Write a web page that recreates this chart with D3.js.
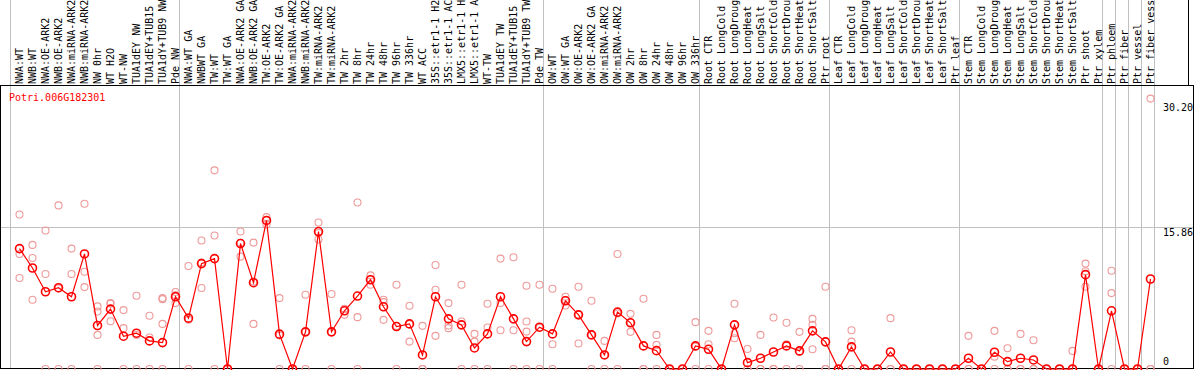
<!doctype html>
<html lang="en">
<head>
<meta charset="utf-8">
<title>Potri.006G182301</title>
<script src="https://cdn.jsdelivr.net/npm/d3@7"></script>
<style>
	html, body { margin: 0; padding: 0; background: #fff; }
	svg { display: block; }
	text { font-family: "DejaVu Sans Mono", monospace; font-size: 10px; }
</style>
</head>
<body>
<div id="chart"></div>
<script>
	// gene shown
	var geneName = "Potri.006G182301";

	// sample names, left to right
	var categories = [
		"NWA:WT", "NWB:WT", "NWA:OE-ARK2", "NWB:OE-ARK2", "NWA:miRNA-ARK2", "NWB:miRNA-ARK2",
		"NW 0hr", "WT H2O", "WT-NW", "TUA1dEY NW", "TUA1dEY+TUB15 NW", "TUA1dY+TUB9 NW", "Pde NW",
		"NWA:WT GA", "NWBWT GA", "TW:WT", "TW:WT GA", "NWA:OE-ARK2 GA", "NWB:OE-ARK2 GA",
		"TW:OE-ARK2", "TW:OE-ARK2 GA", "NWA:miRNA-ARK2", "NWB:miRNA-ARK2", "TW:miRNA-ARK2",
		"TW:miRNA-ARK2", "TW 2hr", "TW 8hr", "TW 24hr", "TW 48hr", "TW 96hr", "TW 336hr",
		"WT ACC", "35S::etr1-1 H2O", "35S::etr1-1 ACC", "LMX5::etr1-1 H2O", "LMX5::etr1-1 ACC",
		"WT-TW", "TUA1dEY TW", "TUA1dEY+TUB15 TW", "TUA1dY+TUB9 TW", "Pde TW",
		"OW:WT", "OW:WT GA", "OW:OE-ARK2", "OW:OE-ARK2 GA", "OW:miRNA-ARK2", "OW:miRNA-ARK2",
		"OW 2hr", "OW 8hr", "OW 24hr", "OW 48hr", "OW 96hr", "OW 336hr",
		"Root CTR", "Root LongCold", "Root LongDrought", "Root LongHeat", "Root LongSalt",
		"Root ShortCold", "Root ShortDrought", "Root ShortHeat", "Root ShortSalt", "Ptr root",
		"Leaf CTR", "Leaf LongCold", "Leaf LongDrought", "Leaf LongHeat", "Leaf LongSalt",
		"Leaf ShortCold", "Leaf ShortDrought", "Leaf ShortHeat", "Leaf ShortSalt", "Ptr leaf",
		"Stem CTR", "Stem LongCold", "Stem LongDrought", "Stem LongHeat", "Stem LongSalt",
		"Stem ShortCold", "Stem ShortDrought", "Stem ShortHeat", "Stem ShortSalt",
		"Ptr shoot", "Ptr xylem", "Ptr phloem", "Ptr fiber", "Ptr vessel", "Ptr fiber vessel"
	];

	// mean expression per sample
	var means = [
		13.45, 11.28, 8.63, 9.08, 8.07, 12.85, 4.86, 6.69, 3.66, 4.0, 3.14, 2.95, 8.07,
		5.68, 11.77, 12.33, 0, 14.01, 9.64, 16.59, 3.89, 0, 4.15, 15.35, 4.15, 6.5, 8.15,
		9.97, 6.95, 4.74, 5.04, 1.57, 8.07, 5.6, 4.93, 2.35, 3.92, 8.07, 5.6, 3.06, 4.67,
		3.92, 7.62, 6.05, 3.81, 1.57, 6.35, 5.16, 2.58, 2.05, 0, 0, 2.58,
		2.2, 0, 4.93, 0.71, 1.2, 1.9, 2.58, 2.02, 4.26, 3.03,
		0, 2.47, 0, 0, 1.9, 0, 0, 0, 0, 0,
		1.2, 0, 1.87, 0.82, 1.2, 1.01, 0, 0, 0,
		10.54, 0, 6.5, 0, 0, 10.05
	];

	// replicate values per sample
	var replicates = [
		[17.26, 12.85, 10.16], [13.86, 12.4, 7.73], [15.47, 10.61, 0], [18.27, 9.0, 0],
		[13.45, 10.61, 0], [18.46, 10.87, 9.15], [6.99, 6.43, 3.81, 0], [7.36, 7.3, 5.34],
		[6.58, 4.56, 0], [8.18, 3.8, 0], [5.94, 3.51, 0], [7.92, 7.8, 5.04, 0], [8.6, 8.25, 7.36],
		[11.51, 5.5, 0], [14.35, 11.9, 9.04], [22.19, 14.91, 0], [0, 0, 0], [15.35, 14.1, 12.55],
		[14.12, 9.76, 5.04], [16.96, 16.6, 16.14], [7.92, 3.75, 0], [0, 0, 0], [8.29, 4.15, 0],
		[16.36, 15.2, 14.46], [8.37, 4.1, 0], [6.72, 6.7, 6.05], [18.6, 5.79, 0],
		[10.46, 10.0, 9.41], [7.73, 7.47, 5.49], [9.41, 4.8, 0], [7.06, 5.0, 3.06],
		[4.82, 0, 0], [11.62, 8.85, 3.7], [7.36, 4.86, 4.56], [9.41, 5.3, 0], [3.92, 3.06, 0],
		[7.29, 4.63, 0], [12.33, 7.36, 4.33], [12.48, 4.33, 0], [9.3, 5.3, 4.18, 0], [9.41, 4.6, 0],
		[8.97, 2.76, 0], [8.07, 7.7, 7.1], [9.19, 6.1, 2.84], [7.62, 3.8, 0], [3.14, 1.57, 0],
		[12.85, 6.2, 0], [6.16, 5.2, 4.15], [7.85, 0, 0], [3.81, 2.69, 0], [0, 0, 0], [0, 0, 0],
		[5.23, 2.5, 0],
		[4.26, 2.76, 0], [0, 0, 0], [7.29, 4.0, 3.44], [2.24, 0, 0], [3.81, 0, 0], [5.75, 0, 0],
		[5.16, 2.76, 0], [4.15, 1.9, 0], [5.6, 4.93, 2.2], [9.19, 0, 0],
		[0, 0, 0], [4.33, 3.06, 0], [0, 0, 0], [0, 0, 0], [5.68, 0, 0], [0, 0, 0], [0, 0, 0],
		[0, 0, 0], [0, 0, 0], [0, 0, 0],
		[3.7, 0, 0], [0, 0, 0], [4.26, 1.38, 0], [2.32, 0, 0], [3.92, 0, 0], [3.21, 0, 0],
		[0, 0, 0], [0, 0, 0], [2.02, 0, 0],
		[11.77, 10.91, 9.19], [0, 0, 0], [10.98, 8.48, 0], [0, 0, 0], [0, 0, 0], [30.2, 0, 0]
	];

	// y axis labels: zero, middle, max
	var yTickValues = [0, 15.86, 30.20];
	var yTickLabels = ["0", "15.86", "30.20"];
	var yTop = 31.72;

	// sample index where a separator line is drawn
	var groupBreaks = [0, 13, 41, 53, 63, 73, 84, 85, 86, 87, 88];

	// ---------------------------------------------
	var W = 1194, H = 370;
	var plotTop = 85, plotBottom = 369, plotLeft = 0.5, plotRight = 1193.5;

	var svg = d3.select("#chart").append("svg")
		.attr("width", W)
		.attr("height", H);

	var x = d3.scaleBand()
		.domain(d3.range(categories.length))
		.range([13, 13 + 13 * categories.length])
		.padding(0);
	var cx = function (i) { return x(i) + x.bandwidth() / 2; };

	var y = d3.scaleLinear().domain([0, yTop]).range([plotBottom, plotTop]);

	// grid
	svg.append("g").selectAll("line")
		.data(groupBreaks)
		.enter().append("line")
		.attr("x1", function (b) { return x.range()[0] + b * x.step() - 2.5; })
		.attr("x2", function (b) { return x.range()[0] + b * x.step() - 2.5; })
		.attr("y1", 0)
		.attr("y2", plotBottom)
		.attr("stroke", "#c0c0c0")
		.attr("stroke-width", 1);

	svg.append("line")
		.attr("x1", plotLeft).attr("x2", plotRight)
		.attr("y1", Math.round(y(yTickValues[1])) + 0.5)
		.attr("y2", Math.round(y(yTickValues[1])) + 0.5)
		.attr("stroke", "#c0c0c0");

	// frame
	svg.append("rect")
		.attr("x", plotLeft).attr("y", plotTop + 0.5)
		.attr("width", plotRight - plotLeft)
		.attr("height", plotBottom - plotTop - 1)
		.attr("fill", "none")
		.attr("stroke", "#000");
	svg.append("line")
		.attr("x1", 1188.5).attr("x2", 1188.5)
		.attr("y1", 0).attr("y2", plotTop)
		.attr("stroke", "#000");

	// sample labels
	svg.append("g").selectAll("text")
		.data(categories)
		.enter().append("text")
		.attr("transform", function (d, i) {
			return "translate(" + (cx(i) + 3.6) + "," + (plotTop - 1) + ") rotate(-90)";
		})
		.attr("fill", "#000")
		.text(function (d) { return d; });

	// y labels
	var yOffsets = [-4, 9, 12];
	svg.append("g").selectAll("text")
		.data(yTickValues)
		.enter().append("text")
		.attr("x", 1163)
		.attr("y", function (d, i) { return y(d) + yOffsets[i]; })
		.attr("fill", "#000")
		.text(function (d, i) { return yTickLabels[i]; });

	// title
	svg.append("text")
		.attr("x", 9).attr("y", 101)
		.attr("fill", "#ff0000")
		.text(geneName);

	// replicates
	var repPoints = [];
	replicates.forEach(function (r, i) {
		r.forEach(function (v) { repPoints.push({ i: i, v: v }); });
	});
	svg.append("g").selectAll("circle")
		.data(repPoints)
		.enter().append("circle")
		.attr("cx", function (d) { return cx(d.i); })
		.attr("cy", function (d) { return y(d.v); })
		.attr("r", 3.5)
		.attr("fill", "none")
		.attr("stroke", "#ee9a9a")
		.attr("stroke-width", 1.1);

	// mean line
	var line = d3.line()
		.x(function (d, i) { return cx(i); })
		.y(function (d) { return y(d); });
	svg.append("path")
		.datum(means)
		.attr("d", line)
		.attr("fill", "none")
		.attr("stroke", "#ff0000")
		.attr("stroke-width", 1.2);

	svg.append("g").selectAll("circle")
		.data(means)
		.enter().append("circle")
		.attr("cx", function (d, i) { return cx(i); })
		.attr("cy", function (d) { return y(d); })
		.attr("r", 4)
		.attr("fill", "none")
		.attr("stroke", "#ff0000")
		.attr("stroke-width", 1.6);
</script>
</body>
</html>
